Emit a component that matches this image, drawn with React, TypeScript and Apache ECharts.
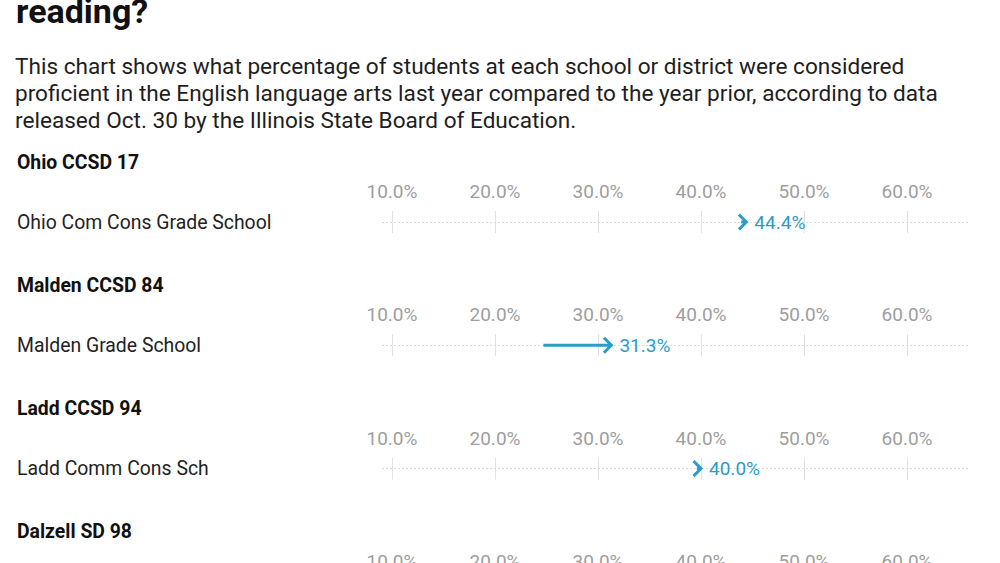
import React, { useEffect, useRef } from "react";
import * as echarts from "echarts";

const titleLine = "reading?";
const subtitleLines = [
  "This chart shows what percentage of students at each school or district were considered",
  "proficient in the English language arts last year compared to the year prior, according to data",
  "released Oct. 30 by the Illinois State Board of Education.",
];
const groups = ["Ohio CCSD 17", "Malden CCSD 84", "Ladd CCSD 94", "Dalzell SD 98"];
const schools = ["Ohio Com Cons Grade School", "Malden Grade School", "Ladd Comm Cons Sch", ""];
const priorYear: (number | null)[] = [43.9, 24.7, 39.6, null];
const lastYear: (number | null)[] = [44.4, 31.3, 40.0, null];
const tickValues = [10, 20, 30, 40, 50, 60];

const BLUE = "#2a9cc9";
const FONT = "Roboto";

export default function App() {
  const ref = useRef<HTMLDivElement>(null);
  useEffect(() => {
    if (!ref.current) return;
    const chart = echarts.init(ref.current, undefined, { renderer: "svg" });
    const step = 123.3;
    const grids: any[] = [];
    const xAxes: any[] = [];
    const yAxes: any[] = [];
    const series: any[] = [];
    const graphics: any[] = [];

    graphics.push({
      type: "text",
      left: 16,
      top: -6,
      style: { text: titleLine, fontSize: 34, fontWeight: "bold", fontFamily: FONT, fill: "#111" },
    });
    subtitleLines.forEach((t, i) => {
      graphics.push({
        type: "text",
        x: 15,
        y: 66 + i * 27,
        style: { text: t, fontSize: 22.6, fontFamily: FONT, fill: "#1e1e1e", verticalAlign: "middle" },
      });
    });

    groups.forEach((g, i) => {
      graphics.push({
        type: "text",
        x: 17,
        y: 162 + i * step,
        style: { text: g, fontSize: 19.4, fontWeight: "bold", fontFamily: FONT, fill: "#111", verticalAlign: "middle" },
      });
      grids.push({ left: 382, width: 586, top: 211 + i * step, height: 22 });
      xAxes.push({
        type: "value",
        gridIndex: i,
        position: "top",
        min: 9.03,
        max: 65.92,
        axisLine: { show: false },
        axisTick: { show: false },
        splitLine: { show: false },
        axisLabel: {
          customValues: tickValues,
          formatter: (v: number) => v.toFixed(1) + "%",
          color: "#9e9e9e",
          fontSize: 19,
          fontFamily: FONT,
          margin: 10,
        },
      });
      yAxes.push({
        type: "category",
        gridIndex: i,
        data: [schools[i]],
        axisLine: { show: false },
        axisTick: { show: false },
        axisLabel: {
          align: "left",
          margin: 365,
          color: "#222",
          fontSize: 19.4,
          fontFamily: FONT,
        },
      });
      series.push({
        type: "line",
        xAxisIndex: i,
        yAxisIndex: i,
        data: [],
        z: 0,
        silent: true,
        markLine: {
          silent: true,
          symbol: "none",
          label: { show: false },
          data: [
            ...tickValues.map((v) => ({ xAxis: v, lineStyle: { color: "#e2e2e2", type: "solid", width: 1 } })),
            { yAxis: 0, lineStyle: { color: "#dcdcdc", type: [2, 2], width: 1 } },
          ],
        },
      });
      const p = priorYear[i];
      const l = lastYear[i];
      series.push({
        type: "custom",
        xAxisIndex: i,
        yAxisIndex: i,
        z: 5,
        encode: { x: [0, 1], y: 2 },
        data: p != null && l != null ? [[p, l, 0]] : [],
        renderItem: (params: any, api: any) => {
          const s = api.coord([api.value(0), api.value(2)]);
          const e = api.coord([api.value(1), api.value(2)]);
          const y = e[1];
          return {
            type: "group",
            children: [
              {
                type: "line",
                z2: 10,
                shape: { x1: s[0], y1: y, x2: e[0] - 1.5, y2: y },
                style: { stroke: BLUE, lineWidth: 3, lineDash: null },
              },
              {
                type: "polyline",
                z2: 10,
                shape: { points: [[e[0] - 7.5, y - 7.5], [e[0], y], [e[0] - 7.5, y + 7.5]] },
                style: { stroke: BLUE, lineWidth: 3, fill: null, lineDash: null, lineJoin: "miter" },
              },
              {
                type: "text",
                z2: 10,
                x: e[0] + 8,
                y: y,
                style: {
                  text: Number(api.value(1)).toFixed(1) + "%",
                  fill: BLUE,
                  fontSize: 19,
                  fontFamily: FONT,
                  verticalAlign: "middle",
                },
              },
            ],
          };
        },
      });
    });

    chart.setOption({
      animation: false,
      backgroundColor: "#ffffff",
      grid: grids,
      xAxis: xAxes,
      yAxis: yAxes,
      series,
      graphic: graphics,
    });
    return () => chart.dispose();
  }, []);
  return (
    <div
      ref={ref}
      style={{ position: "absolute", left: 0, top: 0, width: 1000, height: 563 }}
    />
  );
}
